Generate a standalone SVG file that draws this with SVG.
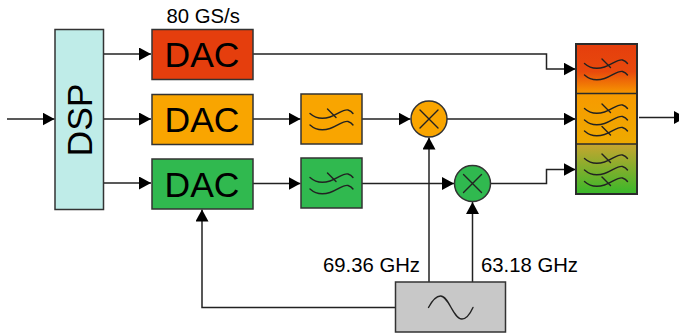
<svg xmlns="http://www.w3.org/2000/svg" width="679" height="333" viewBox="0 0 679 333">
<style>
.b{stroke:#333;stroke-width:1.5}
.c{fill:none;stroke:#222;stroke-width:1.5}
.w{fill:none;stroke:#222;stroke-width:1.4;stroke-linecap:round}
text{font-family:"Liberation Sans",Arial,sans-serif;fill:#000}
.big{font-size:35.500px;text-anchor:middle}
.lab{font-size:20.300px}
</style>
<defs>
<marker id="a" markerUnits="userSpaceOnUse" markerWidth="12" markerHeight="13" refX="12" refY="6.5" orient="auto"><path d="M0 0L12 6.500L0 13Z" fill="#000"/></marker>
<path id="s" d="M0 0C5 4.500 12 6 20 3.500S33-4.500 38-3.500C40-3 42-1.500 43 0"/>
<path id="t" d="M17.500-4.500L26 4"/>
<linearGradient id="g1" x1="0" y1="0" x2="0" y2="1"><stop offset="0" stop-color="#e53e0d"/><stop offset=".55" stop-color="#e8490c"/><stop offset="1" stop-color="#f79a00"/></linearGradient>
<linearGradient id="g2" x1="0" y1="0" x2="0" y2="1"><stop offset="0" stop-color="#f79a00"/><stop offset="1" stop-color="#eeaa00"/></linearGradient>
<linearGradient id="g3" x1="0" y1="0" x2="0" y2="1"><stop offset="0" stop-color="#c8a52f"/><stop offset="1" stop-color="#38b82a"/></linearGradient>
</defs>
<g id="connectors">
<path class="c" d="M7 119H54.500" marker-end="url(#a)"/>
<path class="c" d="M104 54H151" marker-end="url(#a)"/>
<path class="c" d="M104 119H151" marker-end="url(#a)"/>
<path class="c" d="M104 183H151" marker-end="url(#a)"/>
<path class="c" d="M253 54H546.500V69H575.500" marker-end="url(#a)"/>
<path class="c" d="M253 119H300.500" marker-end="url(#a)"/>
<path class="c" d="M253 183.500H300.500" marker-end="url(#a)"/>
<path class="c" d="M362 119H410.500" marker-end="url(#a)"/>
<path class="c" d="M362 183.500H454" marker-end="url(#a)"/>
<path class="c" d="M447 119H575.500" marker-end="url(#a)"/>
<path class="c" d="M491 183.500H546.500V169.500H575.500" marker-end="url(#a)"/>
<path class="c" d="M639 117.500H686" marker-end="url(#a)"/>
<path class="c" d="M429 282V137.500" marker-end="url(#a)"/>
<path class="c" d="M472.500 282V202" marker-end="url(#a)"/>
<path class="c" d="M395 307.500H202V209.500" marker-end="url(#a)"/>
</g>
<g id="dsp"><rect class="b" x="55" y="29.500" width="48.500" height="180" fill="#bfece8"/><text class="big" transform="translate(92 120) rotate(-90)">DSP</text></g>
<g id="dac1"><rect class="b" x="152" y="29.500" width="101" height="50" fill="#e53e0d"/><text class="big" x="202" y="67">DAC</text></g>
<text id="rate" class="lab" x="166.500" y="22.500">80 GS/s</text>
<g id="dac2"><rect class="b" x="152" y="94.500" width="101" height="50" fill="#f9a500"/><text class="big" x="202" y="132">DAC</text></g>
<g id="dac3"><rect class="b" x="152" y="159" width="101" height="50" fill="#30b94f"/><text class="big" x="202" y="197">DAC</text></g>
<g id="filter2"><rect class="b" x="301" y="94" width="61" height="50" fill="#f9a500"/><use class="w" href="#s" x="310" y="113.500"/><use class="w" href="#t" x="310" y="113.500"/><use class="w" href="#s" x="310" y="125"/></g>
<g id="filter3"><rect class="b" x="301" y="158" width="61" height="50" fill="#30b94f"/><use class="w" href="#s" x="310" y="177.500"/><use class="w" href="#t" x="310" y="177.500"/><use class="w" href="#s" x="310" y="189"/></g>
<g id="mixer1"><circle class="b" cx="429" cy="119" r="18" fill="#f9a500"/><path class="w" d="M420 110L438 128M438 110L420 128"/></g>
<g id="mixer2"><circle class="b" cx="472.500" cy="183.500" r="18" fill="#30b94f"/><path class="w" d="M463.500 174.500L481.500 192.500M481.500 174.500L463.500 192.500"/></g>
<g id="combiner">
<rect x="576" y="44" width="61" height="50" fill="url(#g1)"/>
<rect x="576" y="94" width="61" height="50" fill="url(#g2)"/>
<rect x="576" y="144" width="61" height="50" fill="url(#g3)"/>
<rect x="576" y="44" width="61" height="150" fill="none" stroke="#2b2b2b" stroke-width="2"/>
<path d="M576 93.500H637M576 144H637" stroke="#2b2b2b" stroke-width="1.500"/>
<use class="w" href="#s" x="584.500" y="63.500"/><use class="w" href="#t" x="584.500" y="63.500"/><use class="w" href="#s" x="584.500" y="75"/>
<use class="w" href="#s" x="584.500" y="108.500"/><use class="w" href="#t" x="584.500" y="108.500"/><use class="w" href="#s" x="584.500" y="120"/><use class="w" href="#s" x="584.500" y="131"/><use class="w" href="#t" x="584.500" y="131"/>
<use class="w" href="#s" x="584.500" y="158.500"/><use class="w" href="#t" x="584.500" y="158.500"/><use class="w" href="#s" x="584.500" y="170"/><use class="w" href="#s" x="584.500" y="181.500"/><use class="w" href="#t" x="584.500" y="181.500"/>
</g>
<g id="lo"><rect class="b" x="395.500" y="282" width="110" height="50" fill="#c8c8c8"/><path class="w" d="M428.500 307.500C432 301 436 296 440.500 296C449 296 453 319 462 319C467 319 470 314 473 307.500"/></g>
<text id="f1" class="lab" x="323" y="271.500">69.36 GHz</text>
<text id="f2" class="lab" x="481" y="271.500">63.18 GHz</text>
</svg>
